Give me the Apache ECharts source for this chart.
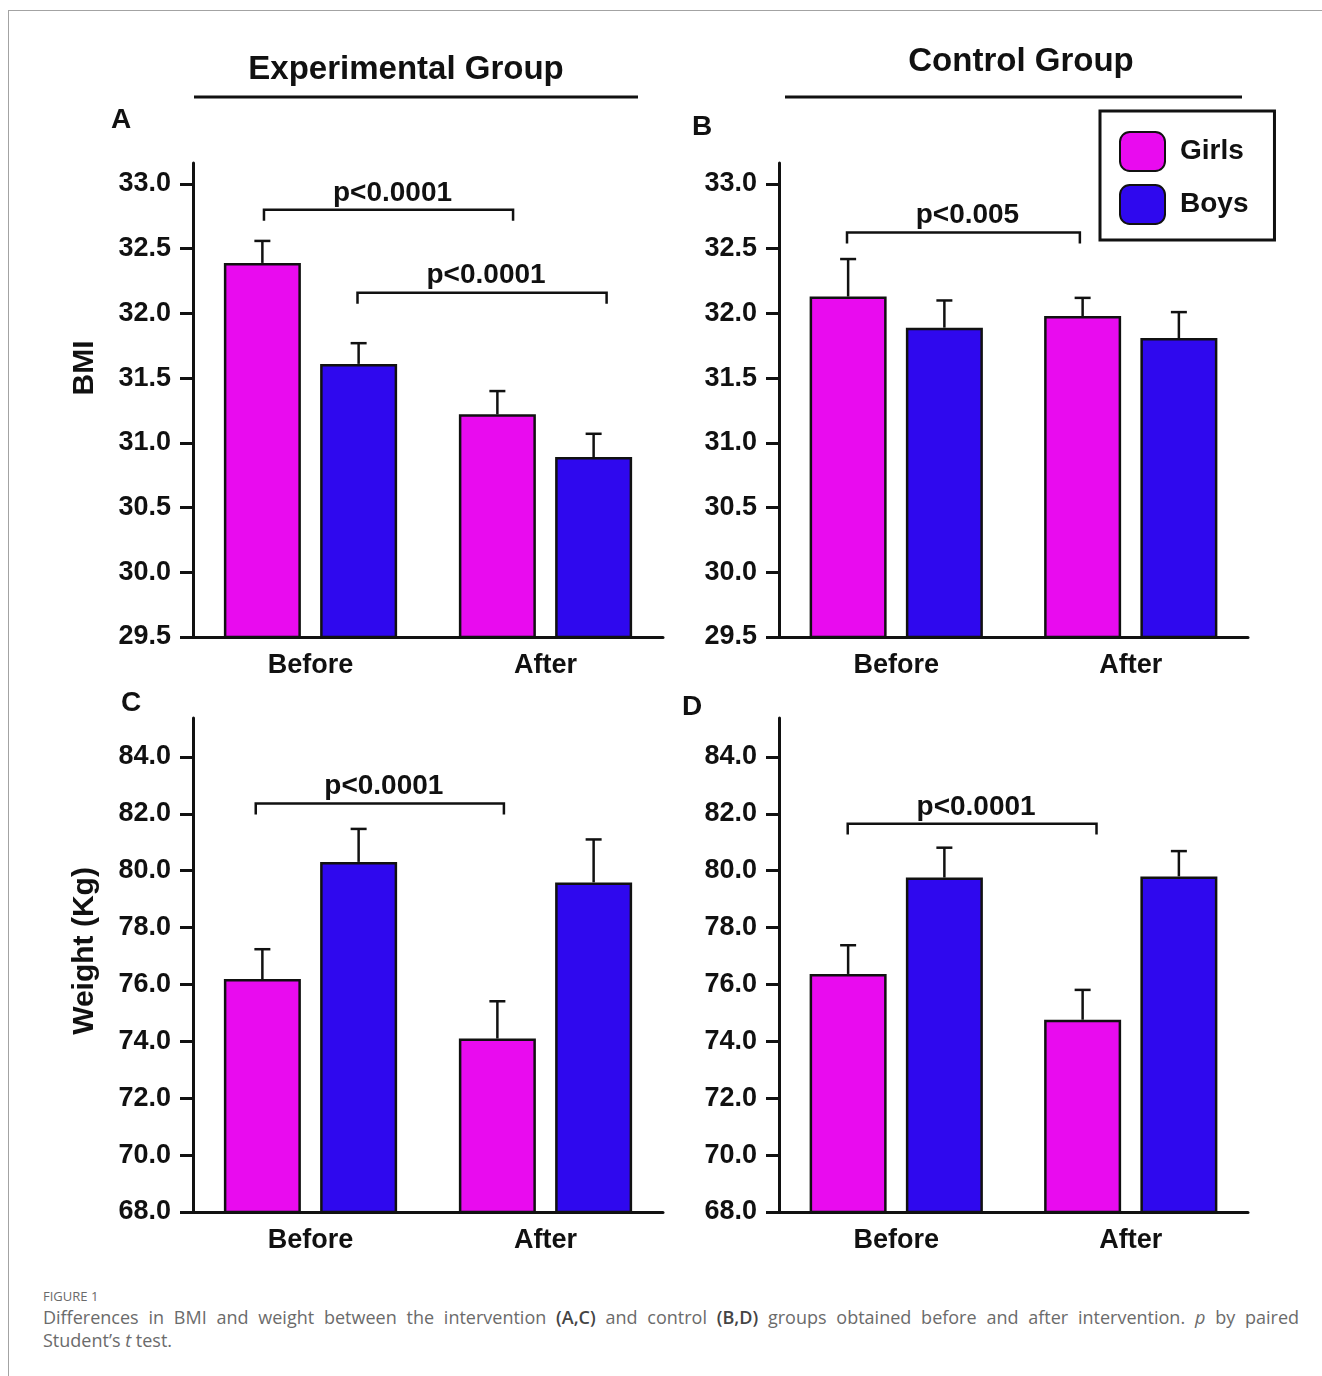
<!DOCTYPE html>
<html>
<head>
<meta charset="utf-8">
<script src="https://cdn.jsdelivr.net/npm/echarts@6/dist/echarts.min.js"></script>
<style>
  html, body { margin: 0; padding: 0; background: #fff; }
  #frame { position: absolute; left: 8px; top: 10px; width: 1320px; height: 1370px; z-index: 3;
           pointer-events: none; border-top: 1px solid #a3a3a3; border-left: 1px solid #a3a3a3; }
  #chart { position: absolute; left: 0; top: 0; width: 1322px; height: 1280px; }
  #caption { position: absolute; left: 43px; top: 1286px; width: 1256px;
             font-family: 'Open Sans', sans-serif; color: #6b6b6b; }
  #caption .fig { font-size: 13px; line-height: 20px; color: #6a6a6a; }
  #caption .txt { font-size: 18px; line-height: 23px; }
  #caption .first { text-align: justify; text-align-last: justify; }
  #caption b { color: #444; font-weight: 600; }
</style>
</head>
<body>
<div id="frame"></div>
<div id="chart"></div>
<div id="caption">
  <div class="fig">FIGURE 1</div>
  <div class="txt first">Differences in BMI and weight between the intervention <b>(A,C)</b> and control <b>(B,D)</b> groups obtained before and after intervention. <i>p</i> by paired</div>
  <div class="txt">Student’s <i>t</i> test.</div>
</div>
<script>
const categories = ['Before', 'After'];
const bmiTicks = [29.5, 30.0, 30.5, 31.0, 31.5, 32.0, 32.5, 33.0];
const weightTicks = [68, 70, 72, 74, 76, 78, 80, 82, 84];

// A: experimental group, BMI (mean and top of error bar)
const expBmiGirls = [32.39, 31.22];
const expBmiGirlsErr = [32.56, 31.40];
const expBmiBoys = [31.61, 30.89];
const expBmiBoysErr = [31.77, 31.07];
// B: control group, BMI
const ctlBmiGirls = [32.13, 31.98];
const ctlBmiGirlsErr = [32.42, 32.12];
const ctlBmiBoys = [31.89, 31.81];
const ctlBmiBoysErr = [32.10, 32.01];
// C: experimental group, weight
const expWtGirls = [76.19, 74.10];
const expWtGirlsErr = [77.24, 75.41];
const expWtBoys = [80.31, 79.59];
const expWtBoysErr = [81.47, 81.10];
// D: control group, weight
const ctlWtGirls = [76.37, 74.76];
const ctlWtGirlsErr = [77.38, 75.81];
const ctlWtBoys = [79.76, 79.80];
const ctlWtBoysErr = [80.81, 80.69];

// significance brackets: [from, to] in category units, level, label
const bracketsA = [[-0.198, 0.862, 32.80], [0.200, 1.260, 32.16]];
const bracketLabelsA = ['p<0.0001', 'p<0.0001'];
const bracketsB = [[-0.21, 0.783, 32.625]];
const bracketLabelsB = ['p<0.005'];
const bracketsC = [[-0.233, 0.823, 82.36]];
const bracketLabelsC = ['p<0.0001'];
const bracketsD = [[-0.207, 0.854, 81.65]];
const bracketLabelsD = ['p<0.0001'];

const GIRLS = '#e90bef';
const BOYS = '#2f08ee';
const INK = '#111';
const FONT = '"Liberation Sans", Arial, sans-serif';
const BAR_W = 77;
const GAP = BAR_W * 0.25;
const OFFSET = (BAR_W + GAP) / 2;

const chart = echarts.init(document.getElementById('chart'));

const grids = [
  { left: 193, top: 163, width: 470, height: 474 },
  { left: 779, top: 163, width: 469, height: 474 },
  { left: 193, top: 718, width: 470, height: 494 },
  { left: 779, top: 718, width: 469, height: 494 }
];

const xAxisFor = i => ({
  type: 'category',
  gridIndex: i,
  data: categories,
  axisLine: { lineStyle: { color: INK, width: 3 } },
  axisTick: { show: false },
  axisLabel: { color: INK, fontFamily: FONT, fontWeight: 'bold', fontSize: 27, margin: 15 }
});

const yAxisFor = (i, ticks, max) => ({
  type: 'value',
  gridIndex: i,
  min: ticks[0],
  max: max,
  splitLine: { show: false },
  axisLine: { show: true, lineStyle: { color: INK, width: 3 } },
  axisTick: { show: true, length: 13, lineStyle: { color: INK, width: 3 }, customValues: ticks },
  axisLabel: {
    color: INK, fontFamily: FONT, fontWeight: 'bold', fontSize: 27, margin: 22,
    customValues: ticks,
    formatter: v => v.toFixed(1)
  }
});

const barSeries = (name, color, idx, values) => ({
  name: name,
  type: 'bar',
  xAxisIndex: idx,
  yAxisIndex: idx,
  data: values,
  barWidth: BAR_W,
  barGap: '25%',
  itemStyle: { color: color, borderColor: INK, borderWidth: 2.5 },
  emphasis: { disabled: true }
});

const errorSeries = (idx, values, tops, offset) => ({
  type: 'custom',
  xAxisIndex: idx,
  yAxisIndex: idx,
  z: 5,
  silent: true,
  encode: { x: 0, y: 2 },
  data: values.map((v, i) => [i, v, tops[i]]),
  renderItem: (params, api) => {
    const base = api.coord([api.value(0), api.value(1)]);
    const top = api.coord([api.value(0), api.value(2)]);
    const x = base[0] + offset;
    const style = { stroke: INK, lineWidth: 2.5 };
    return {
      type: 'group',
      children: [
        { type: 'line', shape: { x1: x, y1: base[1], x2: x, y2: top[1] }, style: style },
        { type: 'line', shape: { x1: x - 8, y1: top[1], x2: x + 8, y2: top[1] }, style: style }
      ]
    };
  }
});

const bracketSeries = (idx, brackets, labels, legUnits) => ({
  type: 'custom',
  xAxisIndex: idx,
  yAxisIndex: idx,
  z: 5,
  silent: true,
  clip: false,
  encode: { x: 0, y: 1 },
  data: brackets.map(b => [0, b[2], b[0], b[1]]),
  renderItem: (params, api) => {
    const c0 = api.coord([0, api.value(1)]);
    const low = api.coord([0, api.value(1) - legUnits]);
    const unit = api.size([1, 0])[0];
    const x1 = c0[0] + api.value(2) * unit;
    const x2 = c0[0] + api.value(3) * unit;
    const y = c0[1];
    return {
      type: 'group',
      children: [
        {
          type: 'polyline',
          shape: { points: [[x1, low[1]], [x1, y], [x2, y], [x2, low[1]]] },
          style: { stroke: INK, lineWidth: 2.5, fill: null }
        },
        {
          type: 'text',
          x: (x1 + x2) / 2 + 4,
          y: y - 3,
          style: {
            text: labels[params.dataIndex],
            fill: INK, fontFamily: FONT, fontWeight: 'bold', fontSize: 28,
            align: 'center', verticalAlign: 'bottom'
          }
        }
      ]
    };
  }
});

const textEl = (text, x, y, size, rotation) => ({
  type: 'text',
  x: x,
  y: y,
  rotation: rotation || 0,
  style: {
    text: text, fill: INK, fontFamily: FONT, fontWeight: 'bold', fontSize: size,
    align: 'center', verticalAlign: 'middle'
  }
});

const lineEl = (x1, x2, y) => ({
  type: 'line',
  shape: { x1: x1, y1: y, x2: x2, y2: y },
  style: { stroke: INK, lineWidth: 3 }
});

chart.setOption({
  animation: false,
  grid: grids,
  xAxis: [0, 1, 2, 3].map(xAxisFor),
  yAxis: [
    yAxisFor(0, bmiTicks, 33.162),
    yAxisFor(1, bmiTicks, 33.162),
    yAxisFor(2, weightTicks, 85.37),
    yAxisFor(3, weightTicks, 85.37)
  ],
  legend: {
    data: ['Girls', 'Boys'],
    orient: 'vertical',
    left: 1100,
    top: 111,
    padding: [20, 26, 15, 19],
    borderColor: INK,
    borderWidth: 3,
    itemWidth: 45,
    itemHeight: 39,
    itemGap: 12,
    icon: 'roundRect',
    selectedMode: false,
    textStyle: { color: INK, fontFamily: FONT, fontWeight: 'bold', fontSize: 28, padding: [0, 0, 0, 10] }
  },
  graphic: [
    textEl('Experimental Group', 406, 70, 33),
    lineEl(194, 638, 97),
    textEl('Control Group', 1021, 62, 33),
    lineEl(785, 1242, 97),
    textEl('A', 121, 120, 28),
    textEl('B', 702, 127, 28),
    textEl('C', 131, 703, 28),
    textEl('D', 692, 707, 28),
    textEl('BMI', 85, 368, 30, Math.PI / 2),
    textEl('Weight (Kg)', 85, 951, 30, Math.PI / 2)
  ],
  series: [
    barSeries('Girls', GIRLS, 0, expBmiGirls),
    barSeries('Boys', BOYS, 0, expBmiBoys),
    errorSeries(0, expBmiGirls, expBmiGirlsErr, -OFFSET),
    errorSeries(0, expBmiBoys, expBmiBoysErr, OFFSET),
    bracketSeries(0, bracketsA, bracketLabelsA, 0.085),

    barSeries('Girls', GIRLS, 1, ctlBmiGirls),
    barSeries('Boys', BOYS, 1, ctlBmiBoys),
    errorSeries(1, ctlBmiGirls, ctlBmiGirlsErr, -OFFSET),
    errorSeries(1, ctlBmiBoys, ctlBmiBoysErr, OFFSET),
    bracketSeries(1, bracketsB, bracketLabelsB, 0.085),

    barSeries('Girls', GIRLS, 2, expWtGirls),
    barSeries('Boys', BOYS, 2, expWtBoys),
    errorSeries(2, expWtGirls, expWtGirlsErr, -OFFSET),
    errorSeries(2, expWtBoys, expWtBoysErr, OFFSET),
    bracketSeries(2, bracketsC, bracketLabelsC, 0.38),

    barSeries('Girls', GIRLS, 3, ctlWtGirls),
    barSeries('Boys', BOYS, 3, ctlWtBoys),
    errorSeries(3, ctlWtGirls, ctlWtGirlsErr, -OFFSET),
    errorSeries(3, ctlWtBoys, ctlWtBoysErr, OFFSET),
    bracketSeries(3, bracketsD, bracketLabelsD, 0.38)
  ]
});
</script>
</body>
</html>
